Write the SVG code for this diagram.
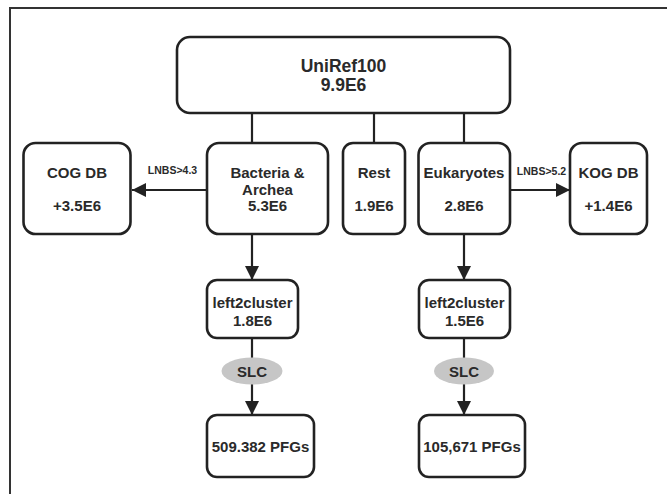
<svg xmlns="http://www.w3.org/2000/svg" width="667" height="494" viewBox="0 0 667 494">
<defs>
<style>
.box{fill:#fff;stroke:#222;stroke-width:2.6}
.t{font-family:"Liberation Sans",Arial,sans-serif;font-weight:bold;fill:#2a2a2a;text-anchor:middle;font-size:15px}
.big{font-size:17.5px}
.lbl{font-size:10.5px}
.c{stroke:#222;stroke-width:2.2;fill:none}
.slc{fill:#c6c6c6}
</style>
<marker id="ah" markerUnits="userSpaceOnUse" markerWidth="14" markerHeight="14" refX="14" refY="7" orient="auto">
<path d="M0,0 L14,7 L0,14 Z" fill="#222"/>
</marker>
</defs>
<rect width="667" height="494" fill="#fff"/>
<path d="M10,494 V8 H667" fill="none" stroke="#333" stroke-width="2"/>

<g id="connectors">
<path class="c" d="M252,113 V143"/>
<path class="c" d="M374,113 V143"/>
<path class="c" d="M464,113 V143"/>
<path class="c" d="M207,190 H132" marker-end="url(#ah)"/>
<path class="c" d="M510,190 H570" marker-end="url(#ah)"/>
<path class="c" d="M252,234 V280" marker-end="url(#ah)"/>
<path class="c" d="M464,234 V280" marker-end="url(#ah)"/>
<path class="c" d="M252,338 V358"/>
<path class="c" d="M464,338 V358"/>
<path class="c" d="M252,384 V415" marker-end="url(#ah)"/>
<path class="c" d="M464,384 V415" marker-end="url(#ah)"/>
<text class="t lbl" x="172.5" y="173.5">LNBS&gt;4.3</text>
<text class="t lbl" x="541.5" y="175">LNBS&gt;5.2</text>
</g>

<g id="uniref">
<rect class="box" x="177" y="37" width="333" height="76" rx="13"/>
<text class="t big" x="343.5" y="72">UniRef100</text>
<text class="t big" x="343.5" y="91">9.9E6</text>
</g>

<g id="cog">
<rect class="box" x="23.5" y="143" width="107" height="91" rx="12"/>
<text class="t" x="77" y="177.5">COG DB</text>
<text class="t" x="77" y="210.5">+3.5E6</text>
</g>

<g id="bacteria">
<rect class="box" x="207" y="143" width="121" height="91" rx="12"/>
<text class="t" x="267.5" y="177.5">Bacteria &amp;</text>
<text class="t" x="267.5" y="194.5">Archea</text>
<text class="t" x="267.5" y="211">5.3E6</text>
</g>

<g id="rest">
<rect class="box" x="343" y="143" width="62" height="91" rx="10"/>
<text class="t" x="374" y="177.5">Rest</text>
<text class="t" x="374" y="211">1.9E6</text>
</g>

<g id="eukaryotes">
<rect class="box" x="418.5" y="143" width="91.5" height="91" rx="12"/>
<text class="t" x="464" y="177.5">Eukaryotes</text>
<text class="t" x="464" y="211">2.8E6</text>
</g>

<g id="kog">
<rect class="box" x="570" y="143" width="77" height="91" rx="12"/>
<text class="t" x="608.5" y="177.5">KOG DB</text>
<text class="t" x="608.5" y="211">+1.4E6</text>
</g>

<g id="l2c-left">
<rect class="box" x="207" y="280" width="91" height="58" rx="10"/>
<text class="t" x="252.5" y="307.5">left2cluster</text>
<text class="t" x="252.5" y="326">1.8E6</text>
</g>

<g id="l2c-right">
<rect class="box" x="419" y="280" width="91" height="58" rx="10"/>
<text class="t" x="464.5" y="307.5">left2cluster</text>
<text class="t" x="464.5" y="326">1.5E6</text>
</g>

<g id="slc-left">
<ellipse class="slc" cx="252" cy="371" rx="30.5" ry="13.5"/>
<text class="t" x="252" y="376.5">SLC</text>
</g>

<g id="slc-right">
<ellipse class="slc" cx="464" cy="371" rx="30" ry="13.5"/>
<text class="t" x="464" y="376.5">SLC</text>
</g>

<g id="pfg-left">
<rect class="box" x="207" y="415" width="107" height="62" rx="10"/>
<text class="t" x="260.5" y="452">509.382 PFGs</text>
</g>

<g id="pfg-right">
<rect class="box" x="419" y="415" width="106" height="62" rx="10"/>
<text class="t" x="472" y="452">105,671 PFGs</text>
</g>
</svg>
